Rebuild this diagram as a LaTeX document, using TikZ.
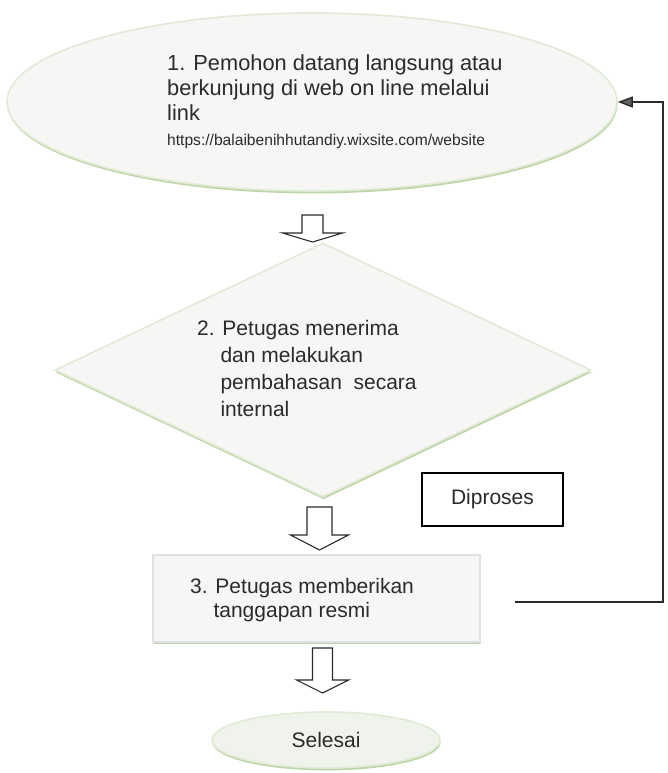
\documentclass[tikz,border=0pt]{standalone}
\usepackage{fontspec}
\setmainfont{Liberation Sans}
\usetikzlibrary{shapes.geometric,shadows,arrows.meta}
\definecolor{ink}{HTML}{2B2B2B}
\definecolor{shapefill}{HTML}{F6F6F4}
\definecolor{endfill}{HTML}{F0F3EC}
\definecolor{edgegreen}{HTML}{E0EBD6}
\definecolor{shadegreen}{HTML}{BCD5A6}
\definecolor{boxedge}{HTML}{E0E0DE}
\begin{document}
\begin{tikzpicture}[x=1pt,y=-1pt,
  flowshape/.style={fill=shapefill, draw=edgegreen, line width=1.6pt,
    drop shadow={shadow xshift=0.6pt, shadow yshift=-2.4pt, fill=shadegreen, opacity=1}},
  steptext/.style={align=left, anchor=north west, inner sep=0pt, text=ink},
  arrowline/.style={draw=ink, line width=1.1pt, fill=white, line join=miter},
  feedback/.style={draw=ink, line width=1.4pt},
  pics/blockarrow/.style args={#1/#2/#3/#4}{code={
    \draw[arrowline] (-#3,0) -- (-#3,#1) -- (-#4,#1) -- (0,#1+#2)
      -- (#4,#1) -- (#3,#1) -- (#3,0) -- cycle;}}
]
\useasboundingbox[fill=white] (0,0) rectangle (667,773);

% step 1: request
\node[flowshape, ellipse, minimum width=610pt, minimum height=178pt] (e1) at (312,102) {};
\node[steptext, font=\fontsize{21.8}{25}\selectfont] (t1) at (167,55)
  {1. Pemohon datang langsung atau\\berkunjung di web on line melalui\\link\\
   {\fontsize{15.6}{25}\selectfont https://balaibenihhutandiy.wixsite.com/website}};

% step 2: internal discussion
\node[flowshape, diamond, minimum width=536pt, minimum height=254pt] (d2) at (323,370) {};
\node[steptext, font=\fontsize{21}{27}\selectfont] (t2) at (197,320)
  {2. Petugas menerima\\\hphantom{2.\ }dan melakukan\\\hphantom{2.\ }pembahasan\ \ secara\\\hphantom{2.\ }internal};

% status label
\node[draw=black, line width=1.4pt, minimum width=141pt, minimum height=53pt,
  font=\fontsize{21}{25}\selectfont, text=ink] (dp) at (492.5,499.5) {Diproses\hspace{12pt}};

% step 3: official response
\node[flowshape, draw=boxedge, rectangle, minimum width=327pt, minimum height=87pt] (b3) at (316.5,598.5) {};
\node[steptext, font=\fontsize{21}{24}\selectfont] (t3) at (190,578)
  {3. Petugas memberikan\\\hphantom{3.\ }tanggapan resmi};

% end
\node[flowshape, ellipse, fill=endfill, minimum width=228pt, minimum height=56pt,
  font=\fontsize{21}{25}\selectfont, text=ink] (end) at (326,740) {Selesai};

% block arrows between the steps: shaft length / head length / shaft half width / head half width
\pic at (312.5,215) {blockarrow=18/9/10.5/30};
\pic at (319.5,507) {blockarrow=28/15/12.5/29};
\pic at (322.5,648) {blockarrow=32/13/10/26};

% feedback line back to step 1
\coordinate (fbstart) at (515,602);
\coordinate (fbcorner) at (663,602);
\draw[feedback, -{Triangle[length=15pt,width=11pt,fill=ink!75]}] (fbstart) -- (fbcorner) |- (e1.east);
\end{tikzpicture}
\end{document}
